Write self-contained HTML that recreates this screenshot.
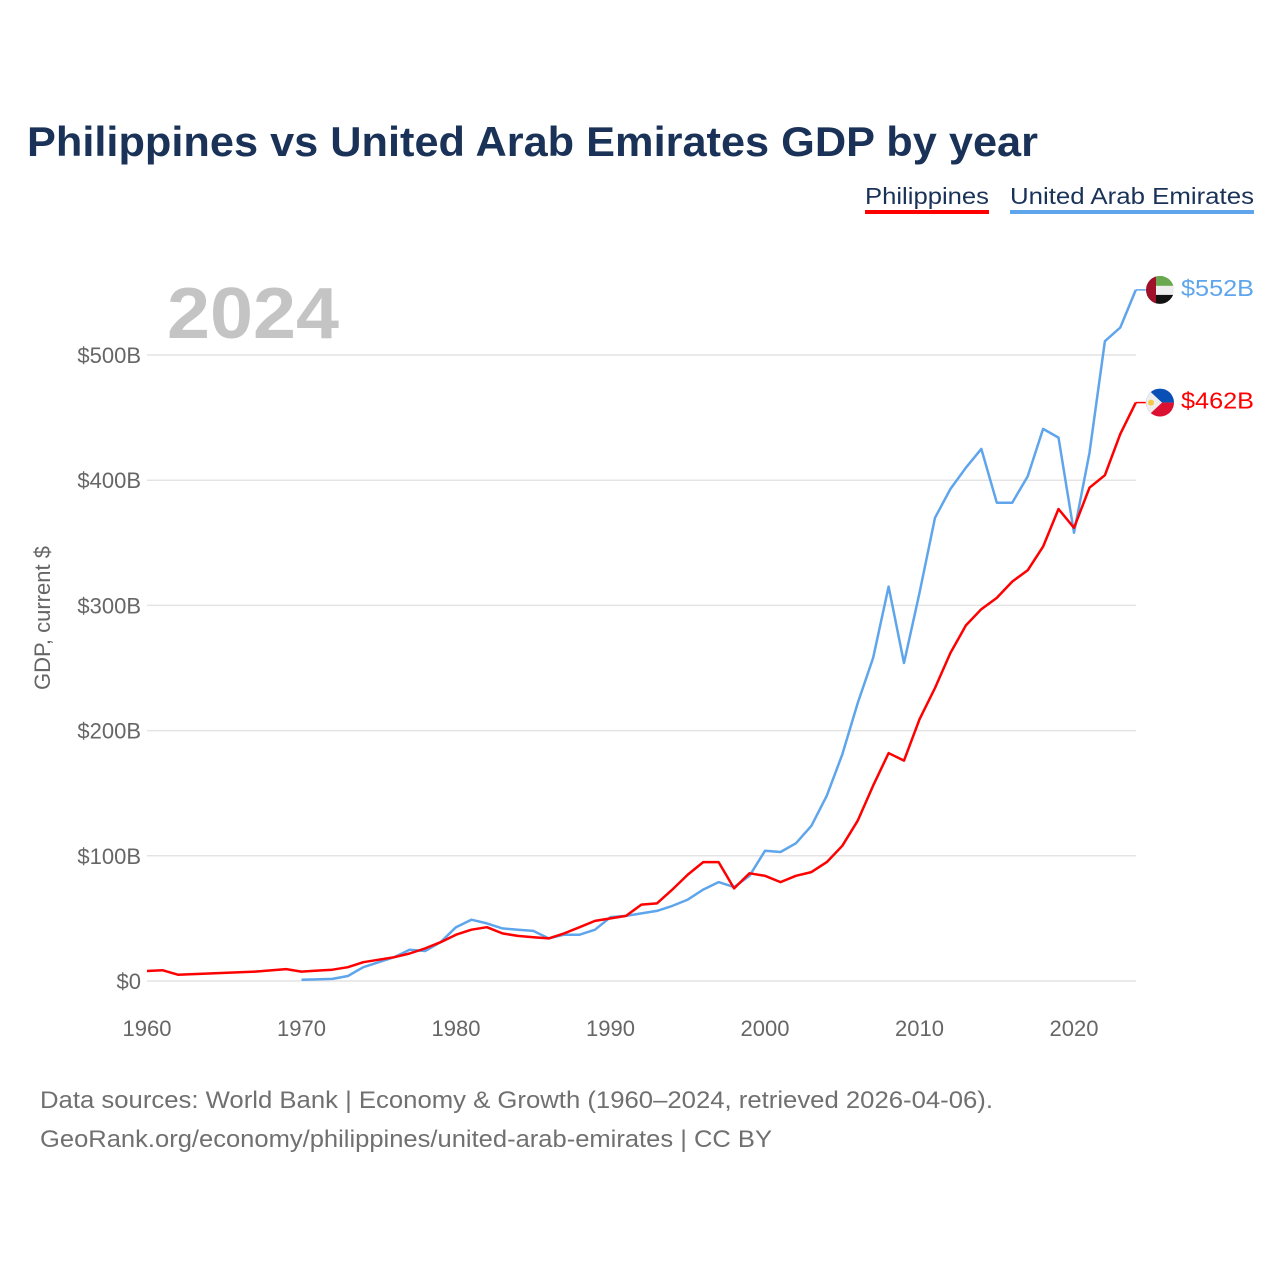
<!DOCTYPE html>
<html><head><meta charset="utf-8">
<style>
html,body{margin:0;padding:0;background:#fff;}
body{width:1280px;height:1280px;overflow:hidden;font-family:"Liberation Sans",sans-serif;}
</style></head>
<body>
<svg id="chart" width="1280" height="1280" viewBox="0 0 1280 1280" xmlns="http://www.w3.org/2000/svg" font-family="Liberation Sans, sans-serif">
<text x="27" y="156" font-size="42" font-weight="bold" fill="#1a3258" textLength="1011" lengthAdjust="spacingAndGlyphs">Philippines vs United Arab Emirates GDP by year</text>
<g>
<text x="865" y="204" font-size="23" fill="#1a3258" textLength="124" lengthAdjust="spacingAndGlyphs">Philippines</text>
<rect x="865" y="210" width="124" height="4" fill="#ff0000"/>
<text x="1010" y="204" font-size="23" fill="#1a3258" textLength="244" lengthAdjust="spacingAndGlyphs">United Arab Emirates</text>
<rect x="1010" y="210" width="244" height="4" fill="#5ea5ec"/>
</g>
<text x="167" y="338" font-size="72" font-weight="bold" fill="#c4c4c4" textLength="172" lengthAdjust="spacingAndGlyphs">2024</text>
<text transform="translate(50,618) rotate(-90)" text-anchor="middle" font-size="22" fill="#666">GDP, current $</text>
<g id="grid"></g>
<g id="lines"></g>
<g font-size="24" fill="#707070">
<text x="40" y="1108" textLength="953" lengthAdjust="spacingAndGlyphs">Data sources: World Bank | Economy &amp; Growth (1960–2024, retrieved 2026-04-06).</text>
<text x="40" y="1147" textLength="732" lengthAdjust="spacingAndGlyphs">GeoRank.org/economy/philippines/united-arab-emirates | CC BY</text>
</g>
</svg>
<script>
const yTicks=[0,100,200,300,400,500];
const yTickLabels=["$0","$100B","$200B","$300B","$400B","$500B"];
const xTicks=[1960,1970,1980,1990,2000,2010,2020];
const phYears=[1960,1961,1962,1963,1964,1965,1966,1967,1968,1969,1970,1971,1972,1973,1974,1975,1976,1977,1978,1979,1980,1981,1982,1983,1984,1985,1986,1987,1988,1989,1990,1991,1992,1993,1994,1995,1996,1997,1998,1999,2000,2001,2002,2003,2004,2005,2006,2007,2008,2009,2010,2011,2012,2013,2014,2015,2016,2017,2018,2019,2020,2021,2022,2023,2024];
const phValues=[8,8.6,5,5.5,6,6.5,7,7.5,8.5,9.5,7.5,8.3,9,11,15,17,19,22,26,31,37,41,43,38,36,35,34,38,43,48,50,52,61,62,73,85,95,95,74,86,84,79,84,87,95,108,128,156,182,176,209,234,262,284,297,306,319,328,347,377,362,394,404,437,462];
const aeYears=[1970,1971,1972,1973,1974,1975,1976,1977,1978,1979,1980,1981,1982,1983,1984,1985,1986,1987,1988,1989,1990,1991,1992,1993,1994,1995,1996,1997,1998,1999,2000,2001,2002,2003,2004,2005,2006,2007,2008,2009,2010,2011,2012,2013,2014,2015,2016,2017,2018,2019,2020,2021,2022,2023,2024];
const aeValues=[1,1.3,1.7,4,11,15,19,25,24,31,43,49,46,42,41,40,34,37,37,41,51,52,54,56,60,65,73,79,75,84,104,103,110,124,148,181,222,258,315,254,310,370,393,410,425,382,382,403,441,434,358,422,511,522,552];
const NS="http://www.w3.org/2000/svg";
function xS(yr){return 147+(yr-1960)*(1074-147)/60;}
function yS(v){return 981-v*(981-355)/500;}
function mk(tag,attrs,parent){const e=document.createElementNS(NS,tag);for(const k in attrs)e.setAttribute(k,attrs[k]);parent.appendChild(e);return e;}
const grid=document.getElementById('grid');
yTicks.forEach((t,i)=>{
  const l=mk('line',{x1:147,x2:1136,y1:yS(t),y2:yS(t),stroke:'#e4e4e4','stroke-width':1.5},grid);
  
  
  const tx=mk('text',{x:141,y:yS(t)+8,'text-anchor':'end','font-size':22,fill:'#666'},grid);
  tx.textContent=yTickLabels[i];
  
  
});
xTicks.forEach(t=>{
  const tx=mk('text',{x:xS(t),y:1036,'text-anchor':'middle','font-size':22,fill:'#666'},grid);
  tx.textContent=t;
  
  
});
const lines=document.getElementById('lines');
function series(yrs,vals,color,name){
  const d=yrs.map((y,i)=>(i?'L':'M')+xS(y).toFixed(1)+','+yS(vals[i]).toFixed(1)).join('');
  const p=mk('path',{d:d,fill:'none',stroke:color,'stroke-width':2.5,'stroke-linejoin':'round'},lines);
  
  
  const last=vals[vals.length-1], ly=yS(last), lx=xS(yrs[yrs.length-1]);
  mk('line',{x1:lx,x2:lx+10,y1:ly,y2:ly,stroke:color,'stroke-width':1.5},lines);
  const lab=mk('text',{x:1181,y:ly+6,'font-size':23,fill:color,textLength:73,lengthAdjust:'spacingAndGlyphs'},lines);
  lab.textContent='$'+Math.round(last)+'B';
  
  
  return ly;
}
const aeY=series(aeYears,aeValues,'#5ea5ec','uae');
const phY=series(phYears,phValues,'#ff0000','philippines');
const cx=1160;
const fa=mk('g',{},lines);


const ca=mk('clipPath',{id:'ca'},fa);
mk('circle',{cx:cx,cy:aeY,r:14},ca);
const ga=mk('g',{'clip-path':'url(#ca)'},fa);
mk('rect',{x:cx-14,y:aeY-14,width:28,height:10,fill:'#6aa84f'},ga);
mk('rect',{x:cx-14,y:aeY-4,width:28,height:9,fill:'#eee'},ga);
mk('rect',{x:cx-14,y:aeY+5,width:28,height:10,fill:'#111'},ga);
mk('rect',{x:cx-14,y:aeY-14,width:10,height:28,fill:'#a0102a'},ga);
const fp=mk('g',{},lines);


const cp=mk('clipPath',{id:'cp'},fp);
mk('circle',{cx:cx,cy:phY,r:14},cp);
const gp=mk('g',{'clip-path':'url(#cp)'},fp);
mk('rect',{x:cx-14,y:phY-14,width:28,height:14,fill:'#0a4fb5'},gp);
mk('rect',{x:cx-14,y:phY,width:28,height:14,fill:'#dc1030'},gp);
mk('polygon',{points:(cx-14)+','+(phY-15)+' '+(cx+2)+','+phY+' '+(cx-14)+','+(phY+15),fill:'#eee'},gp);
mk('circle',{cx:cx-9,cy:phY,r:3,fill:'#f5c842'},gp);
</script>
</body></html>
